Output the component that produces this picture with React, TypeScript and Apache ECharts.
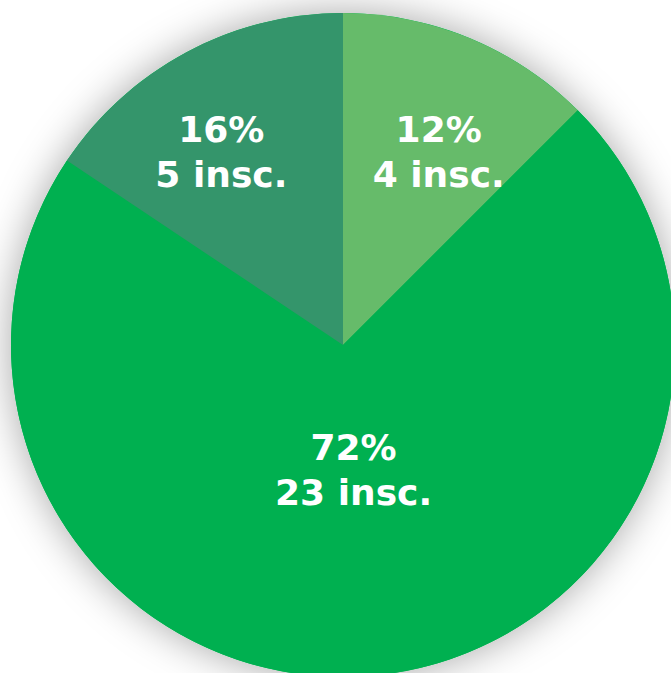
import React, { useEffect, useRef } from "react";
import * as echarts from "echarts";

const categories = ["A", "B", "C"];
const counts = [4, 23, 5];
const percents = ["12%", "72%", "16%"];
const colors = ["#66BB6A", "#00B050", "#34956B"];
const labelOffsets: [number, number][] = [
  [31, -37],
  [-6, -43],
  [-42, -44],
];

export default function App() {
  const ref = useRef<HTMLDivElement>(null);
  useEffect(() => {
    if (!ref.current) return;
    const chart = echarts.init(ref.current, null, { renderer: "svg" });
    const center = [343, 345];
    const radius = 332;
    chart.setOption({
      animation: false,
      backgroundColor: "#ffffff",
      series: [
        {
          type: "pie",
          silent: true,
          center,
          radius,
          z: 1,
          label: { show: false },
          labelLine: { show: false },
          data: [
            {
              value: 1,
              itemStyle: {
                color: "#00B050",
                shadowBlur: 40,
                shadowColor: "rgba(0,0,0,0.35)",
              },
            },
          ],
        },
        {
          type: "pie",
          center,
          radius,
          z: 2,
          startAngle: 90,
          clockwise: true,
          avoidLabelOverlap: false,
          label: {
            show: true,
            position: "inside",
            color: "#ffffff",
            fontFamily: "DejaVu Sans",
            fontWeight: "bold",
            fontSize: 36,
            lineHeight: 45,
            align: "center",
            formatter: (p: any) => `${percents[p.dataIndex]}\n${counts[p.dataIndex]} insc.`,
          },
          labelLine: { show: false },
          emphasis: { disabled: true },
          data: categories.map((c, i) => ({
            name: c,
            value: counts[i],
            itemStyle: { color: colors[i] },
            label: { offset: labelOffsets[i] },
          })),
        },
      ],
    });
    return () => chart.dispose();
  }, []);
  return (
    <div
      ref={ref}
      style={{ position: "absolute", left: 0, top: 0, width: 671, height: 673 }}
    />
  );
}
